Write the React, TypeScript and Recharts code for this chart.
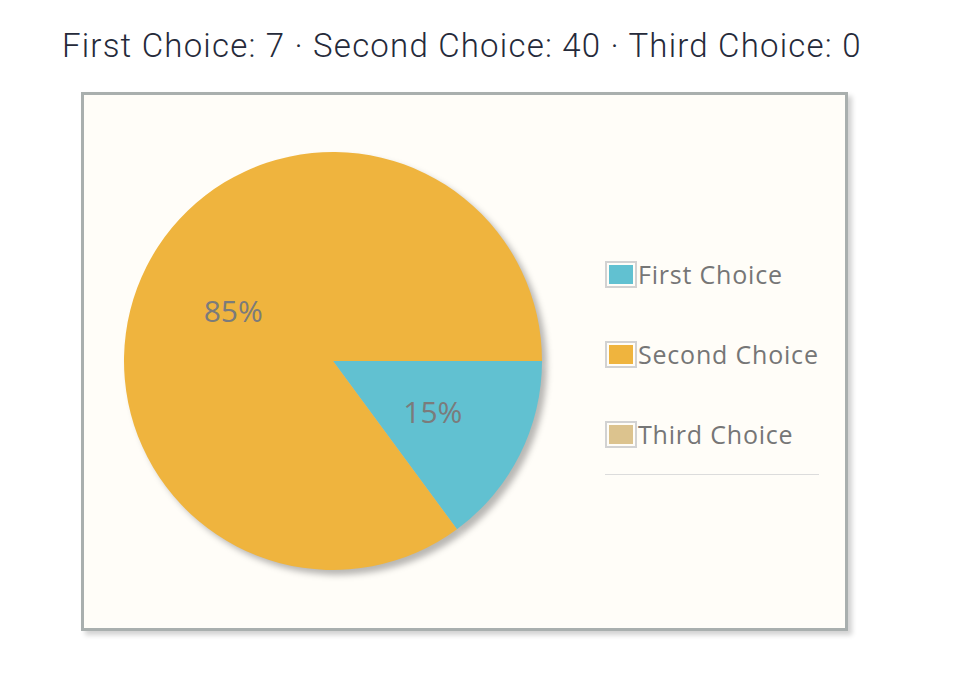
import { PieChart, Pie, Cell, Legend } from "recharts";

const categories = ["First Choice", "Second Choice", "Third Choice"];
const votes = [7, 40, 0];
const COLORS = ["#61c1d1", "#efb43e", "#dcc38e"];

const data = categories.map((name, i) => ({ name, value: votes[i] }));
const total = votes.reduce((a, b) => a + b, 0);

const RADIAN = Math.PI / 180;

const renderLabel = (props: any) => {
  const { cx, cy, midAngle, outerRadius, value } = props;
  if (!value) return null;
  const r = outerRadius * 0.535;
  const x = cx + r * Math.cos(-midAngle * RADIAN);
  const y = cy + r * Math.sin(-midAngle * RADIAN);
  return (
    <text
      x={x}
      y={y}
      fill="#7b7b7b"
      textAnchor="middle"
      dominantBaseline="central"
      style={{ fontFamily: "'Open Sans', sans-serif", fontSize: 30 }}
    >
      {`${Math.round((value / total) * 100)}%`}
    </text>
  );
};

const renderLegend = () => (
  <div style={{ width: 214, fontFamily: "'Open Sans', sans-serif" }}>
    {data.map((d, i) => (
      <div
        key={d.name}
        style={{ display: "flex", alignItems: "center", height: 80 }}
      >
        <div
          style={{
            width: 32,
            height: 27,
            boxSizing: "border-box",
            border: "2px solid #d2d2d2",
            padding: 2,
            background: "#fffdf8",
            flexShrink: 0,
          }}
        >
          <div style={{ width: "100%", height: "100%", background: COLORS[i] }} />
        </div>
        <span
          style={{
            fontSize: 25,
            letterSpacing: 0.8,
            color: "#767676",
            marginLeft: 1,
            whiteSpace: "nowrap",
          }}
        >
          {d.name}
        </span>
      </div>
    ))}
    <div style={{ borderTop: "1px solid #dcdcdc", marginTop: 0 }} />
  </div>
);

export default function App() {
  return (
    <div
      style={{
        position: "absolute",
        left: 0,
        top: 0,
        width: 968,
        height: 694,
        background: "#fff",
      }}
    >
      <div
        style={{
          position: "absolute",
          left: 62,
          top: 29,
          fontFamily: "Roboto, sans-serif",
          fontWeight: 300,
          fontSize: 33,
          letterSpacing: 1.2,
          lineHeight: "33px",
          color: "#252a3a",
          whiteSpace: "nowrap",
        }}
      >
        First Choice: 7 · Second Choice: 40 · Third Choice: 0
      </div>
      <div
        style={{
          position: "absolute",
          left: 81,
          top: 92,
          width: 767,
          height: 539,
          boxSizing: "border-box",
          border: "3px solid #a9afae",
          background: "#fffdf8",
          boxShadow: "4px 4px 5px rgba(0,0,0,0.18)",
        }}
      />
      <div style={{ position: "absolute", left: 0, top: 0 }}>
        <PieChart
          width={968}
          height={694}
          margin={{ top: 0, right: 0, bottom: 0, left: 0 }}
        >
          <defs>
            <filter id="pieBlur" x="-10%" y="-10%" width="125%" height="125%">
              <feGaussianBlur stdDeviation="3" />
            </filter>
          </defs>
          {/* shadow pie drawn behind */}
          <Pie
            data={data}
            dataKey="value"
            nameKey="name"
            cx={338}
            cy={366}
            outerRadius={209}
            startAngle={0}
            endAngle={-360}
            stroke="none"
            fill="#000"
            fillOpacity={0.28}
            legendType="none"
            isAnimationActive={false}
            style={{ filter: "url(#pieBlur)" }}
          />
          <Pie
            data={data}
            dataKey="value"
            nameKey="name"
            cx={333}
            cy={361}
            outerRadius={209}
            startAngle={0}
            endAngle={-360}
            stroke="none"
            label={renderLabel}
            labelLine={false}
            isAnimationActive={false}
          >
            {data.map((entry, index) => (
              <Cell key={`cell-${entry.name}`} fill={COLORS[index]} />
            ))}
          </Pie>
          <Legend
            content={renderLegend}
            wrapperStyle={{ position: "absolute", left: 605, top: 234, width: 214 }}
          />
        </PieChart>
      </div>
    </div>
  );
}
